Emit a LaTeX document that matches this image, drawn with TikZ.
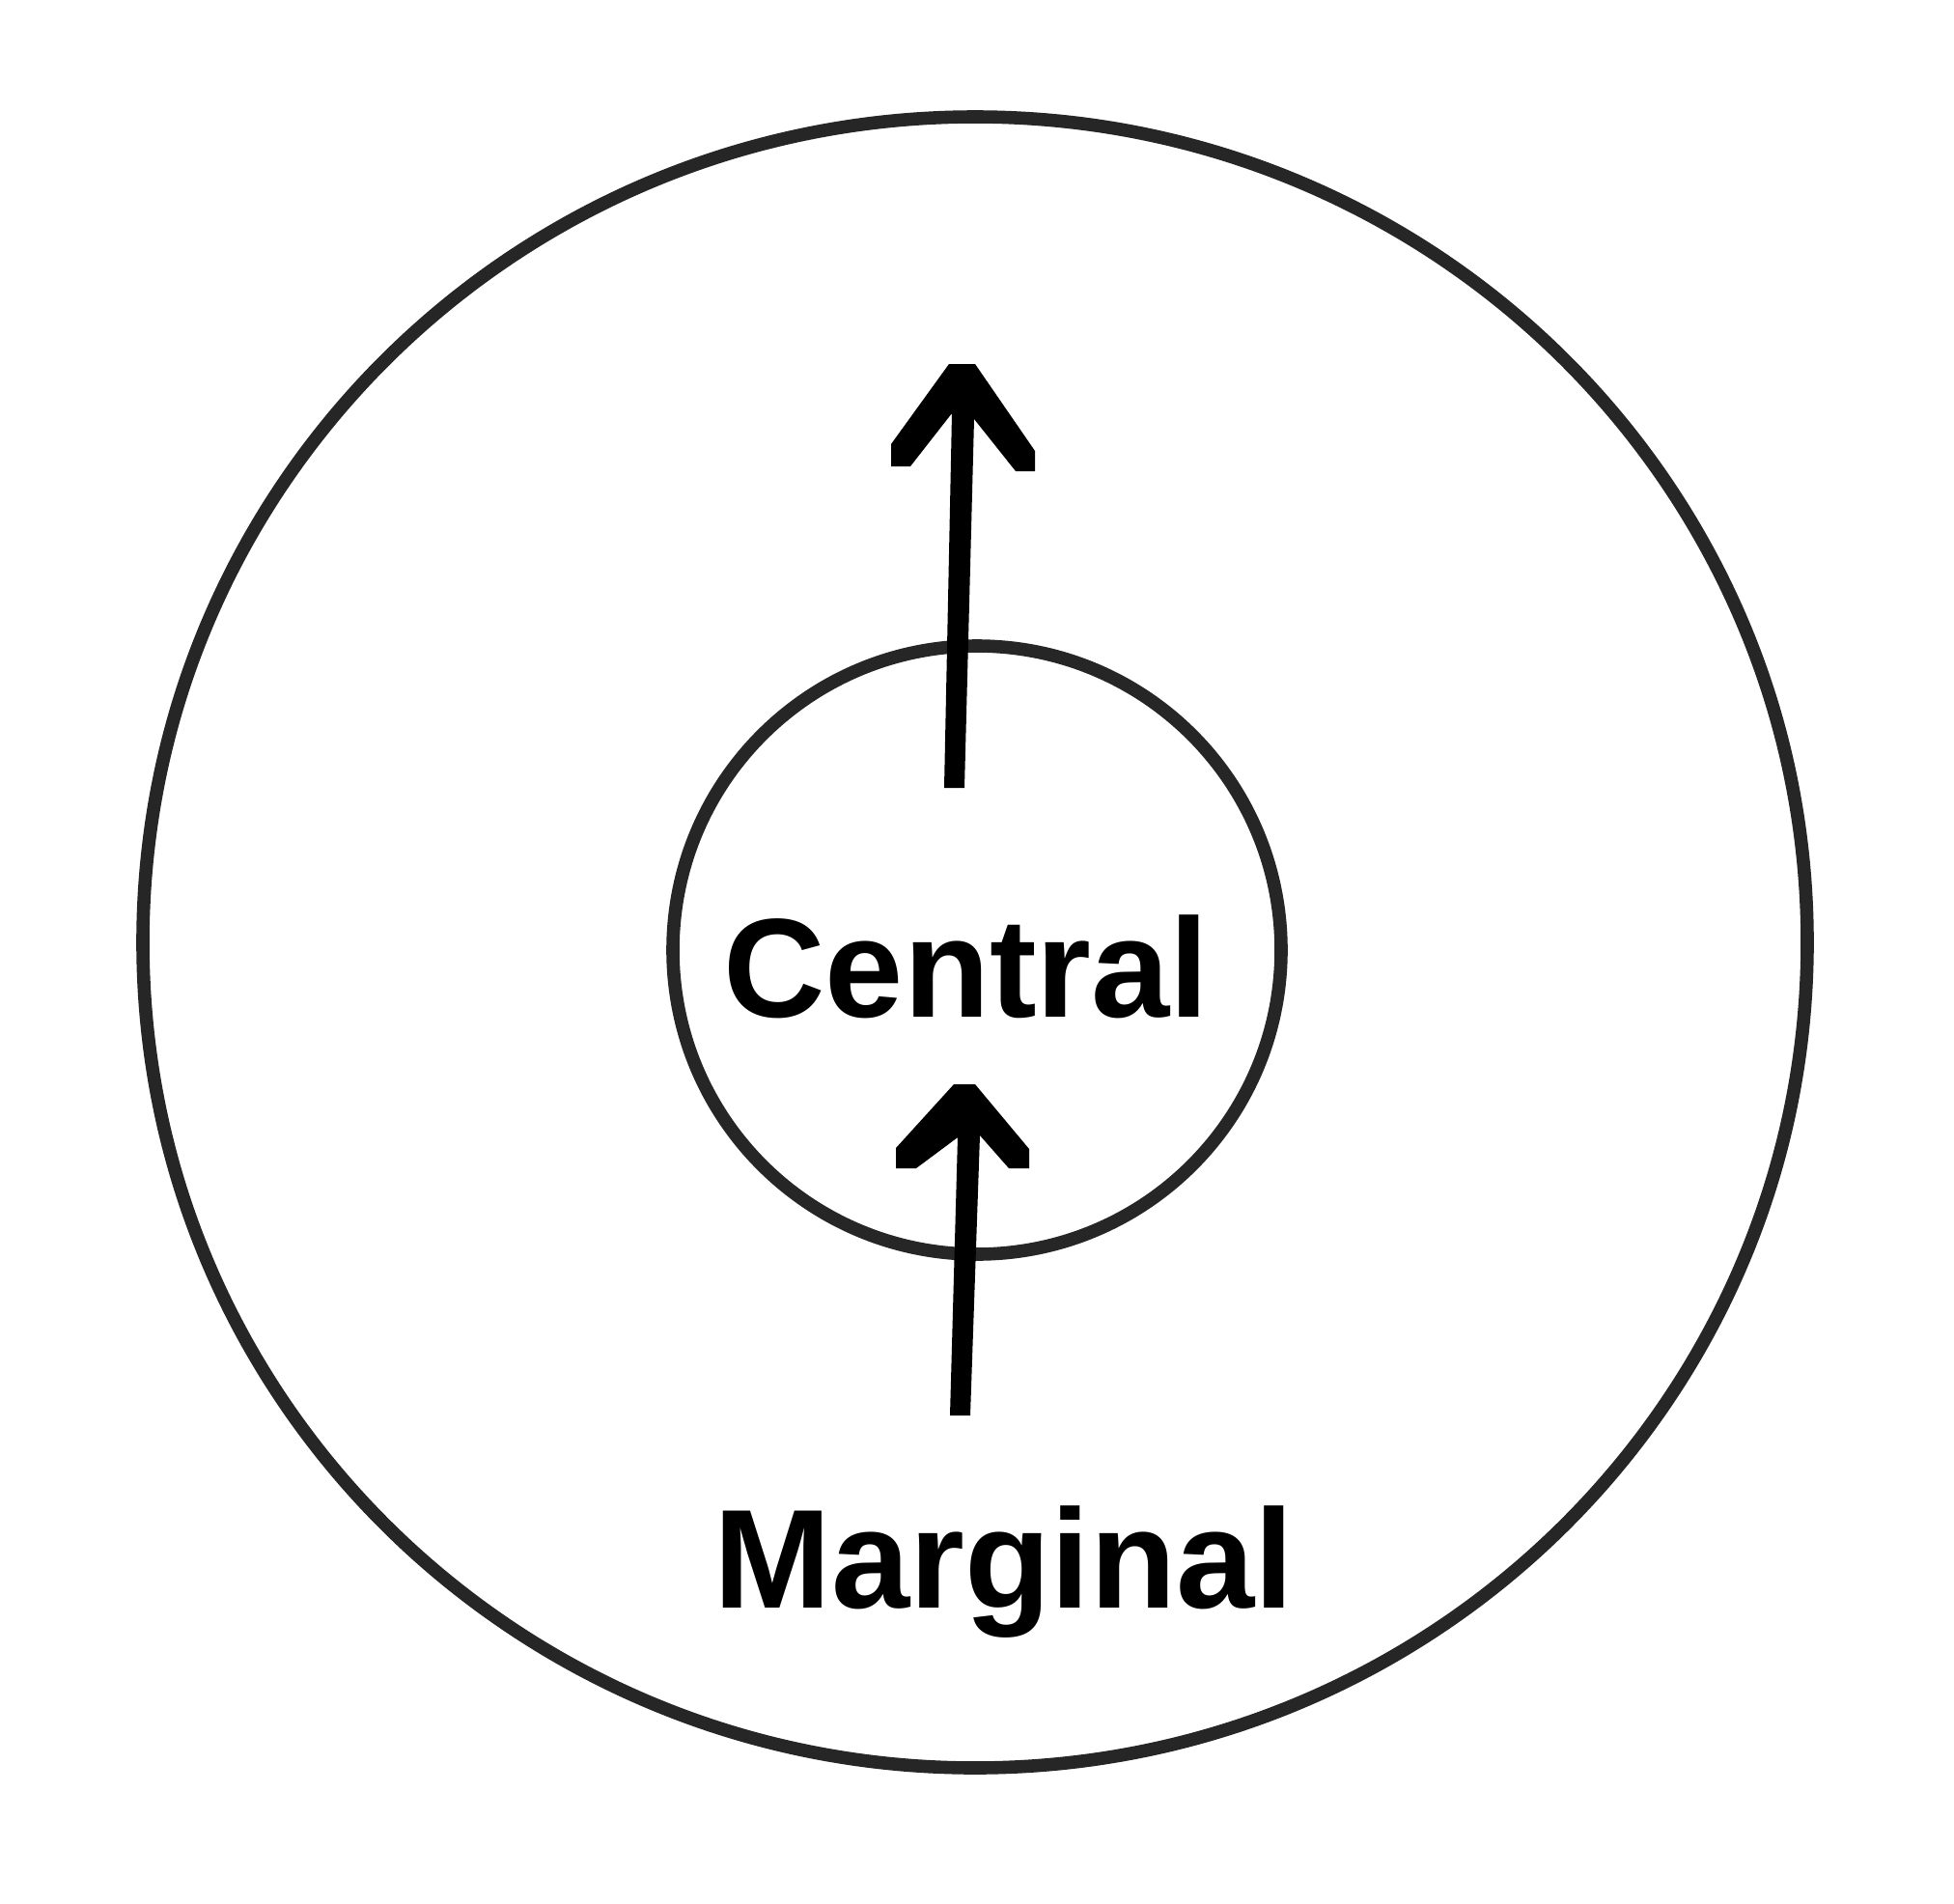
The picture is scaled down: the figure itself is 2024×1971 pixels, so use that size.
\documentclass[tikz,border=0pt]{standalone}
\usepackage{fontspec}
\setmainfont{Liberation Sans}
\begin{document}
\begin{tikzpicture}[x=0.5pt,y=-0.5pt,
  ring/.style={draw=black!85,line width=6.8pt},
  arrowshape/.style={fill=black,draw=none},
  label/.style={anchor=base,inner sep=0pt,font=\bfseries\fontsize{73}{88}\selectfont}]
\useasboundingbox[fill=white] (0,0) rectangle (2024,1971);
% outer and inner circles
\draw[ring] (1010,976) ellipse [x radius=431pt, y radius=427.5pt];
\draw[ring] (1012,984) ellipse [x radius=157.5pt, y radius=157.5pt];
% upper arrow
\fill[arrowshape] (983,377) -- (1010,377) -- (1072,467) -- (1072,488) -- (1052,488)
  -- (1009,434) -- (999,816) -- (978,816) -- (986,428) -- (943,483) -- (923,483)
  -- (923,460) -- cycle;
% lower arrow
\fill[arrowshape] (988,1123) -- (1010,1123) -- (1066,1190) -- (1066,1210) -- (1045,1210)
  -- (1015,1176) -- (1005,1466) -- (984,1466) -- (992,1178) -- (949,1210) -- (928,1210)
  -- (928,1189) -- cycle;
% labels
\node[label] (central) at (1001,1053) {Central};
\node[label] (marginal) at (1040,1665) {Marginal};
\end{tikzpicture}
\end{document}
